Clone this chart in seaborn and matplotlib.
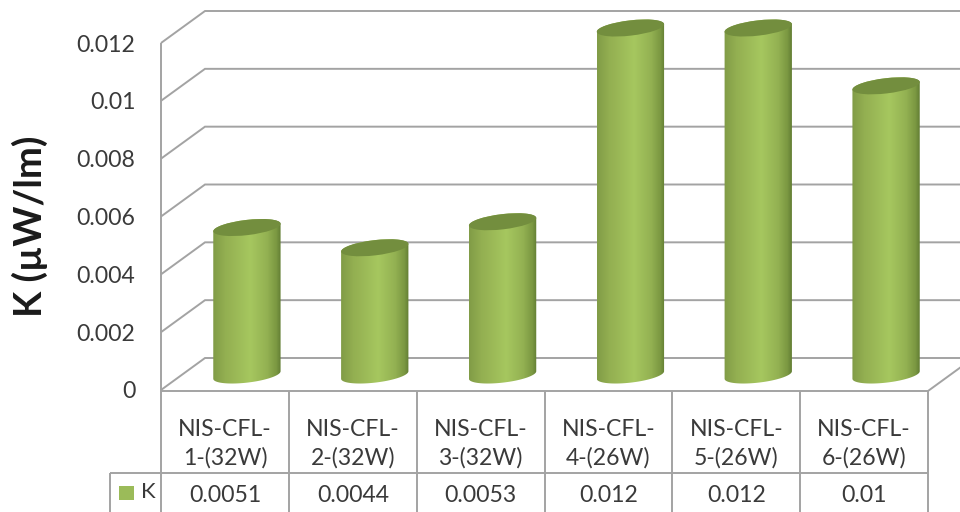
import numpy as np
import pandas as pd
import matplotlib
matplotlib.use("Agg")
import matplotlib.pyplot as plt
import seaborn as sns
from matplotlib.colors import LinearSegmentedColormap
from matplotlib.lines import Line2D
from matplotlib.patches import Ellipse, Rectangle
from matplotlib.path import Path
from matplotlib.transforms import IdentityTransform, blended_transform_factory

lamps = ["NIS-CFL-\n1-(32W)", "NIS-CFL-\n2-(32W)", "NIS-CFL-\n3-(32W)",
         "NIS-CFL-\n4-(26W)", "NIS-CFL-\n5-(26W)", "NIS-CFL-\n6-(26W)"]
k_values = [0.0051, 0.0044, 0.0053, 0.012, 0.012, 0.01]
y_ticks = [0, 0.002, 0.004, 0.006, 0.008, 0.01, 0.012]

W, H = 960, 512
FRAME = "#a3a3a3"
TEXT = "#3a3a3a"
GREEN = "#9bbb59"
FONT = "Lato"
LABEL_SIZE = 16.6

sns.set_style("white")
plt.rcParams["font.family"] = [FONT, "DejaVu Sans"]

fig = plt.figure(figsize=(W / 100, H / 100), dpi=100, facecolor="white")


def box(left, right, top, bottom):
    """Axes rectangle from pixel edges measured from the top-left corner."""
    return [left / W, (H - bottom) / H, (right - left) / W, (bottom - top) / H]


def pixel_line(x, y, **kw):
    """Frame line in pixel coordinates measured from the top-left corner."""
    fig.add_artist(Line2D(x, [H - v for v in y], transform=IdentityTransform(),
                          color=kw.pop("color", FRAME), lw=kw.pop("lw", 1.4),
                          solid_capstyle="butt", solid_joinstyle="miter", **kw))


# Front plane of the chart: value axis, category labels and the data table text
ax = fig.add_axes(box(161, 928, 43, 390))
ax.set_xlim(-0.5, 5.5)
ax.set_ylim(0, 0.012)
ax.set_xticks(range(len(lamps)))
ax.set_xticklabels(lamps, fontsize=LABEL_SIZE, color=TEXT, linespacing=1.42)
ax.set_yticks(y_ticks)
ax.set_yticklabels([f"{v:g}" for v in y_ticks], fontsize=LABEL_SIZE, color=TEXT)
ax.tick_params(axis="x", length=0, pad=21)
ax.tick_params(axis="y", length=0, pad=18.5)
ax.patch.set_visible(False)
for spine in ax.spines.values():
    spine.set_visible(False)
ax.set_ylabel("K (µW/lm)", fontsize=27.5, fontweight="bold", color="#1a1a1a")
ax.yaxis.set_label_coords((48 - 161) / (928 - 161), (390 - 226) / (390 - 43))

# Perspective walls: each gridline steps back along the depth direction
DEPTH_X, DEPTH_Y = 44, 32
for v in y_ticks:
    y = H - ax.transData.transform((0, v))[1]
    pixel_line([161, 161 + DEPTH_X, W + 5], [y, y - DEPTH_Y, y - DEPTH_Y])
pixel_line([161, 161], [43, 391])
pixel_line([161, 928, W + 5], [391, 391, 391 - 32 * (W + 5 - 928) / DEPTH_X])

# Data table under the plot
column_edges = [161 + i * (928 - 161) / 6 for i in range(7)]
for x in column_edges:
    pixel_line([x, x], [391, H + 2])
pixel_line([110, 928], [473, 473])
pixel_line([110, 110], [473, H + 2])
for spot, value in enumerate(k_values):
    ax.text(spot, (H - 496) / H, f"{value:g}", ha="center", va="center", fontsize=LABEL_SIZE, color=TEXT,
            transform=blended_transform_factory(ax.transData, fig.transFigure))
fig.add_artist(Rectangle((119, H - 500), 15, 14, transform=IdentityTransform(),
                         facecolor=GREEN, edgecolor="none"))
fig.text(148 / W, (H - 492) / H, "K", ha="center", va="center", fontsize=16, color=TEXT)

# Cylinders sit on an axes shifted back along the depth direction
ax_bars = fig.add_axes(box(183, 950, 28, 375), zorder=3)
frame = pd.DataFrame({"lamp": lamps, "K": k_values})
sns.barplot(data=frame, x="lamp", y="K", color=GREEN, width=0.53, ax=ax_bars)
ax_bars.set_xlim(-0.5, 5.5)
ax_bars.set_ylim(0, 0.012)
ax_bars.axis("off")

body_shade = LinearSegmentedColormap.from_list(
    "cylinder",
    [(0.0, "#819c47"), (0.18, "#93af51"), (0.55, "#a6c75f"), (0.8, "#93b152"),
     (0.94, "#7a9741"), (1.0, "#627e34")],
)
TILT = np.deg2rad(6.7)
MINOR = 7.6


def ellipse_points(cx, cy, major, t):
    return np.column_stack([
        cx + major * np.cos(t) * np.cos(TILT) - MINOR * np.sin(t) * np.sin(TILT),
        cy + major * np.cos(t) * np.sin(TILT) + MINOR * np.sin(t) * np.cos(TILT),
    ])


for bar in list(ax_bars.patches):
    left, width, height = bar.get_x(), bar.get_width(), bar.get_height()
    bar.set_visible(False)
    x0, y_base = ax_bars.transData.transform((left, 0))
    x1, y_top = ax_bars.transData.transform((left + width, height))
    major = (x1 - x0) / 2
    cx = (x0 + x1) / 2
    turn = np.arctan2(-MINOR * np.sin(TILT), major * np.cos(TILT))
    lower = ellipse_points(cx, y_base, major, np.linspace(turn + np.pi, turn + 2 * np.pi, 60))
    upper = ellipse_points(cx, y_top, major, np.linspace(turn, turn + np.pi, 60))
    outline = np.vstack([lower, upper, lower[:1]])

    shading = ax_bars.imshow(np.linspace(0, 1, 200)[None, :], cmap=body_shade, aspect="auto",
                             extent=(left, left + width, -0.001, height + 0.001), zorder=2)
    shading.set_clip_box(fig.bbox)
    shading.set_clip_path(Path(outline, closed=True), IdentityTransform())

    ax_bars.add_patch(Ellipse((cx, y_top), 2 * major, 2 * MINOR, angle=np.rad2deg(TILT),
                              transform=IdentityTransform(), facecolor="#738e3e",
                              edgecolor="none", zorder=3, clip_on=False))

ax_bars.set_xlim(-0.5, 5.5)
ax_bars.set_ylim(0, 0.012)

fig.savefig("out.png", dpi=100, facecolor="white")
